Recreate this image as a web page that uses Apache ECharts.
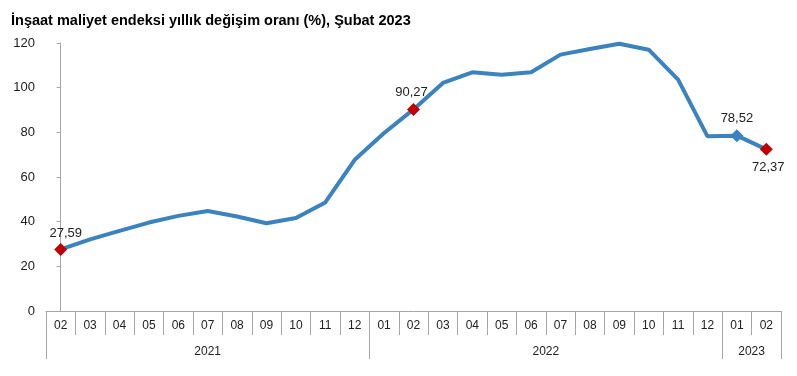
<!DOCTYPE html>
<html>
<head>
<meta charset="utf-8">
<script src="https://cdn.jsdelivr.net/npm/echarts@6/dist/echarts.min.js"></script>
<style>
  html, body { margin: 0; padding: 0; background: #fff; }
  #chart { width: 797px; height: 376px; }
</style>
</head>
<body>
<div id="chart"></div>
<script>
// ay etiketleri (02/2021 - 02/2023)
var months = ['02', '03', '04', '05', '06', '07', '08', '09', '10', '11', '12',
              '01', '02', '03', '04', '05', '06', '07', '08', '09', '10', '11', '12',
              '01', '02'];
// yıllar ve her yıldaki ay sayısı
var years = ['2021', '2022', '2023'];
var yearSpans = [11, 12, 2];
// yıllık değişim oranı (%)
var rates = [27.59, 32.1, 35.9, 39.6, 42.6, 44.8, 42.3, 39.3, 41.6, 48.6, 67.7,
             79.7, 90.27, 102.1, 106.9, 105.8, 106.9, 114.8, 117.3, 119.7, 117.0, 103.6, 78.2,
             78.52, 72.37];
// etiketli noktalar: indeks, renk, etiket yeri
var marked = [
    { idx: 0, color: '#C00000', pos: 'top', offset: [5, 1] },
    { idx: 12, color: '#C00000', pos: 'top', offset: [-2, 0] },
    { idx: 23, color: '#3A83BF', pos: 'top', offset: [0, 0] },
    { idx: 24, color: '#C00000', pos: 'bottom', offset: [2, 1] }
];

var lineColor = '#3A83BF';
var gridColor = '#A6A6A6';

function fmt(v) {
    return v.toFixed(2).replace('.', ',');
}

// yıl sınırları ve ortaları
var yearBounds = [-0.5];
var yearCenters = [];
var start = 0;
for (var i = 0; i < yearSpans.length; i++) {
    yearCenters.push(start + (yearSpans[i] - 1) / 2);
    start += yearSpans[i];
    yearBounds.push(start - 0.5);
}

var seriesData = rates.map(function (v, i) {
    var item = { value: v };
    marked.forEach(function (m) {
        if (m.idx === i) {
            item.symbol = 'diamond';
            item.symbolSize = 13;
            item.itemStyle = { color: m.color };
            item.label = {
                show: true,
                position: m.pos,
                distance: 4,
                offset: m.offset,
                formatter: fmt(v)
            };
        }
    });
    return item;
});

var chart = echarts.init(document.getElementById('chart'));

chart.setOption({
    animation: false,
    backgroundColor: '#fff',
    title: {
        text: 'İnşaat maliyet endeksi yıllık değişim oranı (%), Şubat 2023',
        left: 6,
        top: 8,
        textStyle: {
            fontFamily: 'Liberation Sans, Arial, sans-serif',
            fontSize: 14.5,
            fontWeight: 'bold',
            color: '#000'
        }
    },
    grid: {
        left: 46,
        right: 16,
        top: 43,
        bottom: 65
    },
    xAxis: [{
        type: 'category',
        data: months,
        boundaryGap: true,
        axisLine: { lineStyle: { color: gridColor, width: 1 } },
        axisTick: {
            show: true,
            interval: 0,
            length: 24,
            lineStyle: { color: gridColor }
        },
        axisLabel: {
            interval: 0,
            margin: 9,
            fontFamily: 'Liberation Sans, Arial, sans-serif',
            fontSize: 12,
            color: '#222'
        }
    }, {
        type: 'value',
        position: 'bottom',
        min: -0.5,
        max: months.length - 0.5,
        axisLine: { show: false },
        splitLine: { show: false },
        axisTick: {
            show: true,
            customValues: yearBounds,
            length: 48,
            lineStyle: { color: gridColor }
        },
        axisLabel: {
            customValues: yearCenters,
            margin: 35,
            fontFamily: 'Liberation Sans, Arial, sans-serif',
            fontSize: 12,
            color: '#222',
            formatter: function (v) {
                var k = yearCenters.indexOf(v);
                return k >= 0 ? years[k] : '';
            }
        }
    }],
    yAxis: {
        type: 'value',
        min: 0,
        max: 120,
        interval: 20,
        axisLine: { show: true, lineStyle: { color: gridColor } },
        axisTick: { show: true, length: 4, lineStyle: { color: gridColor } },
        splitLine: { show: false },
        axisLabel: {
            margin: 11,
            fontFamily: 'Liberation Sans, Arial, sans-serif',
            fontSize: 13,
            color: '#222'
        }
    },
    series: [{
        name: 'Yıllık değişim',
        type: 'line',
        xAxisIndex: 0,
        data: seriesData,
        symbol: 'none',
        lineStyle: { color: lineColor, width: 4 },
        itemStyle: { color: lineColor },
        label: {
            fontFamily: 'Liberation Sans, Arial, sans-serif',
            fontSize: 13,
            color: '#222'
        },
        z: 3
    }]
});
</script>
</body>
</html>
